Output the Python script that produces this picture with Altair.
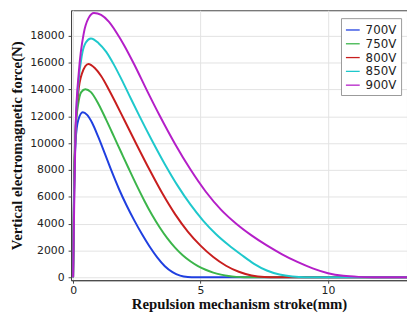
import altair as alt
import pandas as pd

series_names = ["700V", "750V", "800V", "850V", "900V"]
series_colors = ["#1f3fe0", "#3bb54a", "#c81e1e", "#1ec8cc", "#b41ec8"]

x_700 = [0, 0.04, 0.1, 0.2, 0.38, 0.55, 0.75, 1.0, 1.25, 1.5, 1.8, 2.1, 2.4, 2.7, 3.0, 3.3, 3.6, 3.9, 4.2, 4.5, 4.8, 13.1]
y_700 = [0, 7000, 10200, 11700, 12300, 12100, 11500, 10400, 9190, 7960, 6580, 5350, 4240, 3220, 2290, 1480, 820, 380, 120, 20, 0, 0]

x_750 = [0, 0.04, 0.1, 0.2, 0.32, 0.48, 0.7, 1.0, 1.3, 1.6, 1.9, 2.2, 2.5, 2.8, 3.1, 3.4, 3.7, 4.0, 4.3, 4.6, 4.9, 5.2, 5.5, 5.8, 6.1, 6.4, 6.7, 13.1]
y_750 = [0, 7000, 11000, 12900, 13800, 14020, 13800, 12900, 11730, 10500, 9260, 8030, 6830, 5690, 4640, 3710, 2900, 2210, 1640, 1190, 830, 560, 350, 200, 90, 30, 0, 0]

x_800 = [0, 0.04, 0.1, 0.2, 0.35, 0.6, 0.85, 1.1, 1.4, 1.7, 2.0, 2.5, 3.0, 3.5, 4.0, 4.5, 5.0, 5.5, 6.0, 6.5, 7.0, 7.5, 8.0, 13.1]
y_800 = [0, 6500, 11000, 13700, 15200, 15900, 15600, 15000, 14000, 12900, 11760, 9860, 8010, 6260, 4710, 3410, 2360, 1510, 860, 410, 135, 20, 0, 0]

x_850 = [0, 0.04, 0.1, 0.2, 0.35, 0.5, 0.7, 1.0, 1.3, 1.6, 1.9, 2.2, 2.6, 3.1, 3.6, 4.1, 4.6, 5.1, 5.6, 6.1, 6.6, 7.1, 7.6, 8.1, 8.6, 9.1, 13.1]
y_850 = [0, 6000, 11000, 14300, 16600, 17500, 17800, 17450, 16800, 15850, 14750, 13580, 12030, 10180, 8430, 6830, 5430, 4230, 3230, 2405, 1680, 1005, 505, 205, 55, 0, 0]

x_900 = [0, 0.04, 0.1, 0.23, 0.42, 0.6, 0.82, 1.1, 1.4, 1.7, 2.0, 2.4, 2.9, 3.4, 4.0, 4.6, 5.2, 5.8, 6.4, 7.0, 7.6, 8.2, 8.8, 9.4, 10.0, 10.6, 11.2, 11.8, 12.4, 13.1]
y_900 = [0, 5000, 11300, 15400, 18200, 19300, 19700, 19550, 19050, 18250, 17300, 15860, 13910, 12035, 9935, 8045, 6395, 5045, 3995, 3125, 2375, 1715, 1145, 665, 305, 107, 29, 5, 0, 0]

xs = [x_700, x_750, x_800, x_850, x_900]
ys = [y_700, y_750, y_800, y_850, y_900]

rows = []
for name, xv, yv in zip(series_names, xs, ys):
    for a, b in zip(xv, yv):
        rows.append({"series": name, "x": a, "y": b})
df = pd.DataFrame(rows)

x_ticks = [0, 5, 10]
y_ticks = [0, 2000, 4000, 6000, 8000, 10000, 12000, 14000, 16000, 18000]

chart = alt.Chart(df).mark_line(strokeWidth=2, interpolate="monotone").encode(
    x=alt.X("x:Q", scale=alt.Scale(domain=[-0.08, 13.1], nice=False, zero=False),
            axis=alt.Axis(values=x_ticks, title="Repulsion mechanism stroke(mm)", format="d",
                          labelFont="DejaVu Sans", labelFontSize=11, labelColor="#222",
                          labelPadding=1, tickSize=3, tickColor="#444",
                          titleFont="Liberation Serif", titleFontSize=15, titleFontWeight="bold",
                          titleColor="#111", titlePadding=2,
                          domainColor="#444", gridColor="#e3e3e3")),
    y=alt.Y("y:Q", scale=alt.Scale(domain=[-220, 19900], nice=False, zero=False),
            axis=alt.Axis(values=y_ticks, title="Vertical electromagnetic force(N)", format="d",
                          labelFont="DejaVu Sans", labelFontSize=11, labelColor="#222",
                          labelPadding=4, tickSize=3, tickColor="#444",
                          titleFont="Liberation Serif", titleFontSize=15, titleFontWeight="bold",
                          titleColor="#111", titlePadding=5,
                          domainColor="#444", gridColor="#e3e3e3")),
    color=alt.Color("series:N", scale=alt.Scale(domain=series_names, range=series_colors),
                    legend=alt.Legend(title=None, orient="none", legendX=274, legendY=8,
                                      symbolType="stroke", symbolSize=196, symbolStrokeWidth=1.3,
                                      labelFont="DejaVu Sans", labelFontSize=12, labelColor="#222",
                                      labelOffset=5, rowPadding=-1, padding=4,
                                      strokeColor="#999", fillColor="white")),
    order=alt.Order("series:N"),
).properties(
    width=341, height=274,
    padding={"left": 64, "top": 0, "right": 0, "bottom": 34},
    autosize=alt.AutoSizeParams(type="none"),
).configure_view(stroke="#444", strokeWidth=1)

chart.save("out.html", embed_options={"renderer": "svg", "actions": False})
